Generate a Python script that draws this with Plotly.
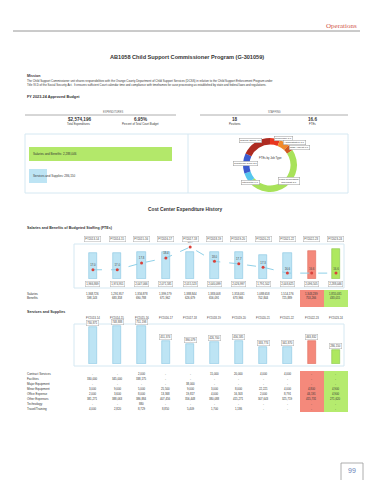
import plotly.graph_objects as go

# ---------------- data ----------------
fiscal_years = ["FY2013-14", "FY2014-15", "FY2015-16", "FY2016-17", "FY2017-18", "FY2018-19",
                "FY2019-20", "FY2020-21", "FY2021-22", "FY2022-23", "FY2023-24"]

budget_categories = ["Salaries and Benefits", "Services and Supplies"]
budget_values = [2288046, 286150]

job_types = ["Supervisor", "Administrative", "Staff Analyst", "Legal Processing Specialist",
             "Interpreter", "Courtroom Clerk", "Judicial Officer"]
job_ftes = [1.0, 1.0, 0.6, 8.0, 1.0, 2.0, 3.0]

sb_totals = [1966869, 1974951, 2047066, 2071581, 2015523, 2040099, 2026997, 1791502, 2003625, 2096505, 2288046]
ftes = [17.0, 17.0, 17.8, 18.4, 19.7, 18.0, 17.7, 17.3, 16.6, 16.6, 16.6]
salaries = [1368726, 1291957, 1356878, 1399179, 1388844, 1383008, 1353031, 1088658, 1514176, 1343239, 1855031]
benefits = [598143, 683358, 690788, 671962, 626679, 656091, 673966, 702844, 725889, 753266, 433015]

services_totals = [730871, 748888, 751198, 451374, 390079, 426700, 456585, 333774, 341870, 463832, 286150]
service_rows = ["Contract Services", "Facilities", "Major Equipment", "Minor Equipment",
                "Office Expense", "Other Expenses", "Technology", "Travel/Training"]
contract = [None, None, 2000, None, None, 15000, 20000, 4000, 4000, None, None]
facilities = [330000, 345000, 338175, None, None, None, None, None, None, None, None]
major_equip = [None, None, None, None, 38000, None, None, None, None, None, None]
minor_equip = [3000, 9000, 5000, 25500, 9000, 3000, 8000, 22221, 4000, 4800, 4900]
office_exp = [2000, 3600, 8000, 13368, 19817, 4000, 16303, 2000, 8791, 44191, 4900]
other_exp = [381271, 388063, 386884, 407456, 356448, 380088, 415271, 307643, 325719, 415731, 271620]
technology = [None, None, 880, None, None, None, None, None, None, None, None]
travel = [4000, 2820, 8729, 8850, 5409, 1700, 1186, None, None, None, None]
service_table = [contract, facilities, major_equip, minor_equip, office_exp, other_exp, technology, travel]

# ---------------- helpers ----------------
W, H = 370, 480
FONT = "Liberation Sans"
def X(px): return px / W
def Y(py): return 1 - py / H

ann, shapes = [], []

def text(x, y, s, size=3.3, color="#333333", bold=False, xanchor="left", family=FONT, **kw):
    if bold:
        s = f"<b>{s}</b>"
    ann.append(dict(x=X(x), y=Y(y), xref="paper", yref="paper", text=s, showarrow=False,
                    xanchor=xanchor, yanchor="middle",
                    font=dict(size=size, color=color, family=family), **kw))

def dtext(x, xref, y, s, size=2.8, color="#333333", **kw):
    ann.append(dict(x=x, xref=xref, y=Y(y), yref="paper", text=s, showarrow=False,
                    xanchor="center", yanchor="middle",
                    font=dict(size=size, color=color, family=FONT), **kw))

def rect(x0, y0, x1, y1, line="#d5e8f2", fill=None, lw=1):
    shapes.append(dict(type="rect", xref="paper", yref="paper", x0=X(x0), x1=X(x1), y0=Y(y1), y1=Y(y0),
                       line=dict(color=line, width=lw) if line else dict(width=0),
                       fillcolor=fill, layer="below"))

def hline(x0, x1, y, color="#999999", lw=0.8):
    shapes.append(dict(type="line", xref="paper", yref="paper", x0=X(x0), x1=X(x1), y0=Y(y), y1=Y(y),
                       line=dict(color=color, width=lw)))

def fmt(v):
    return "-" if v is None else f"{v:,}"

# ---------------- header ----------------
text(359, 26, "Operations", size=7, color="#d2584b", xanchor="right", family="Liberation Serif")
hline(13, 360, 31, color="#8a8a8a", lw=0.9)
text(187, 57, "AB1058 Child Support Commissioner Program (G-301059)", size=5.6, bold=True, xanchor="center")
text(25, 76, "Mission", size=3.6, bold=True)
text(25, 81, "The Child Support Commissioner unit shares responsibilities with the Orange County Department of Child Support Services (DCSS) in relation to the Child Support Enforcement Program under", size=2.9)
text(25, 85, "Title IV-D of the Social Security Act.  It ensures sufficient Court calendar time and compliance with timeframes for case processing as established by state and federal laws and regulations.", size=2.9)
text(25, 97, "FY 2023-24 Approved Budget", size=3.8, bold=True)

# summary
text(113, 112, "EXPENDITURES", size=2.6, color="#666666", xanchor="center")
text(274, 112, "STAFFING", size=2.6, color="#666666", xanchor="center")
hline(25, 176, 115)
hline(200, 348, 115)
text(79, 119, "$2,574,196", size=4.6, bold=True, xanchor="center")
text(79, 124, "Total Expenditures", size=2.8, xanchor="center")
text(140, 119, "6.95%", size=4.6, bold=True, xanchor="center")
text(140, 124, "Percent of Total Court Budget", size=2.8, xanchor="center")
text(235, 119, "18", size=4.6, bold=True, xanchor="center")
text(235, 124, "Positions", size=2.8, xanchor="center")
text(312, 119, "16.6", size=4.6, bold=True, xanchor="center")
text(312, 124, "FTEs", size=2.8, xanchor="center")

rect(25, 134, 348, 193)
shapes.append(dict(type="line", xref="paper", yref="paper", x0=X(188), x1=X(188), y0=Y(193), y1=Y(134),
                   line=dict(color="#d5e8f2", width=1)))

fig = go.Figure()

# expenditures horizontal bars
fig.add_trace(go.Bar(y=budget_categories, x=budget_values, orientation="h",
                     marker=dict(color=["#b3e86a", "#bde4f4"], line=dict(width=0)),
                     width=0.68, xaxis="x", yaxis="y", hoverinfo="skip"))
text(31, 153.5, f"{budget_categories[0]}: {budget_values[0]:,}", size=3)
text(31, 175.5, f"{budget_categories[1]}: {budget_values[1]:,}", size=3)

# donut
fig.add_trace(go.Pie(labels=job_types, values=job_ftes, hole=0.76, sort=False, direction="clockwise",
                     rotation=0, textinfo="none", hoverinfo="skip",
                     marker=dict(colors=["#e8361f", "#f08a2c", "#cf5a22", "#a8e25a",
                                         "#56c6ee", "#3b5bcf", "#ad2b22"], line=dict(width=0)),
                     domain=dict(x=[X(243), X(297)], y=[Y(192), Y(138)])))
text(270, 158, "FTEs by Job Type", size=2.8, xanchor="center")
box = dict(bordercolor="#9a9a9a", borderwidth=0.5, borderpad=0.6, bgcolor="white")
text(251, 141, f"{job_types[6]} {job_ftes[6]:.1f}", size=2.5, xanchor="center", **box)
text(283, 138, f"{job_types[0]} {job_ftes[0]:.1f}", size=2.5, xanchor="center", **box)
text(294, 142.5, f"{job_types[1]} {job_ftes[1]:.1f}", size=2.5, xanchor="center", **box)
text(299, 147, f"{job_types[2]} {job_ftes[2]:.1f}", size=2.5, xanchor="center", **box)
text(245, 163, f"{job_types[5]} {job_ftes[5]:.1f}", size=2.5, xanchor="center", **box)
text(251, 182, f"{job_types[4]} {job_ftes[4]:.1f}", size=2.5, xanchor="center", **box)
text(289, 181, f"Legal Processing<br>Specialist {job_ftes[3]:.1f}", size=2.5, xanchor="center", **box)

# ---------------- history ----------------
text(185, 209, "Cost Center Expenditure History", size=4.8, bold=True, xanchor="center")
text(25, 228, "Salaries and Benefits of Budgeted Staffing (FTEs)", size=3.6, bold=True)

bar_colors = ["#bde4f4"] * 9 + ["#f4897b", "#aee85f"]
bar_lines = ["#86c6e2"] * 9 + ["#e06a5a", "#86c64a"]

rect(74, 244, 344, 288)
fig.add_trace(go.Bar(x=fiscal_years, y=sb_totals, width=0.34,
                     marker=dict(color=bar_colors, line=dict(color=bar_lines, width=0.6)),
                     xaxis="x2", yaxis="y2", hoverinfo="skip"))
fig.add_trace(go.Scatter(x=fiscal_years, y=ftes, mode="lines+markers+text",
                         line=dict(color="#8fd0e8", width=1, dash="dash"),
                         marker=dict(color="#d9413a", size=3),
                         text=[f"{v:.1f}" for v in ftes], textposition="top center",
                         textfont=dict(size=2.8, color="#444444", family=FONT),
                         cliponaxis=False, xaxis="x2", yaxis="y3", hoverinfo="skip"))

small_box = dict(bordercolor="#b0b0b0", borderwidth=0.5, borderpad=0.7, bgcolor="white")
for i, fy in enumerate(fiscal_years):
    dtext(fy, "x2", 239, fy, color="#444444", **small_box)
    dtext(fy, "x2", 284, f"{sb_totals[i]:,}", color="#444444", **small_box)

# salaries / benefits table
rect(300, 290, 324, 307, line=None, fill="#f4897b")
rect(324, 290, 348, 307, line=None, fill="#b5eb6e")
text(25, 293.5, "Salaries", size=3)
text(25, 298, "Benefits", size=3)
for i, fy in enumerate(fiscal_years):
    dtext(fy, "x2", 293.5, fmt(salaries[i]))
    dtext(fy, "x2", 298, fmt(benefits[i]))

# services chart
text(25, 312, "Services and Supplies", size=3.6, bold=True)
rect(74, 324, 344, 366)
fig.add_trace(go.Bar(x=fiscal_years, y=services_totals, width=0.34,
                     marker=dict(color=bar_colors, line=dict(color=bar_lines, width=0.6)),
                     xaxis="x3", yaxis="y4", hoverinfo="skip"))
for i, fy in enumerate(fiscal_years):
    dtext(fy, "x3", 318, fy, color="#444444")
    ann.append(dict(x=fy, xref="x3", y=services_totals[i], yref="y4", xanchor="center", yanchor="bottom",
                    yshift=1, text=f"{services_totals[i]:,}", showarrow=False,
                    font=dict(size=2.8, color="#444444", family=FONT), **small_box))

rect(300, 371, 324, 412, line=None, fill="#f4897b")
rect(324, 371, 348, 412, line=None, fill="#b5eb6e")
row_y = [374, 379, 384, 389, 394, 399, 404, 409]
for name, row, yy in zip(service_rows, service_table, row_y):
    text(25, yy, name, size=3)
    for i, fy in enumerate(fiscal_years):
        dtext(fy, "x3", yy, fmt(row[i]))

# page number
rect(341, 463, 363, 484, line="#9a9a9a", lw=0.8)
text(352, 470, "99", size=7, color="#6a7fb5", xanchor="center")

hidden = dict(visible=False, fixedrange=True, showgrid=False, zeroline=False)
fig.update_layout(
    width=W, height=H, margin=dict(l=0, r=0, t=0, b=0),
    paper_bgcolor="white", plot_bgcolor="white", showlegend=False,
    xaxis=dict(domain=[X(29), X(180)], range=[0, 2416000], anchor="y", **hidden),
    yaxis=dict(domain=[Y(186.5), Y(142.5)], type="category", range=[1.5, -0.5], anchor="x", **hidden),
    xaxis2=dict(domain=[X(74), X(344)], type="category", range=[-0.78, 10.33], anchor="y2", **hidden),
    yaxis2=dict(domain=[Y(279), Y(244)], range=[0, 2660000], anchor="x2", **hidden),
    yaxis3=dict(domain=[Y(279), Y(244)], range=[15.9, 20.06], overlaying="y2", anchor="x2", **hidden),
    xaxis3=dict(domain=[X(74), X(344)], type="category", range=[-0.78, 10.33], anchor="y4", **hidden),
    yaxis4=dict(domain=[Y(364), Y(324)], range=[0, 790000], anchor="x3", **hidden),
    annotations=ann, shapes=shapes, bargap=0,
)
fig.write_html("out.html", config={"displayModeBar": False},
               post_script="document.body.style.margin='0px';document.body.style.overflow='hidden';")
